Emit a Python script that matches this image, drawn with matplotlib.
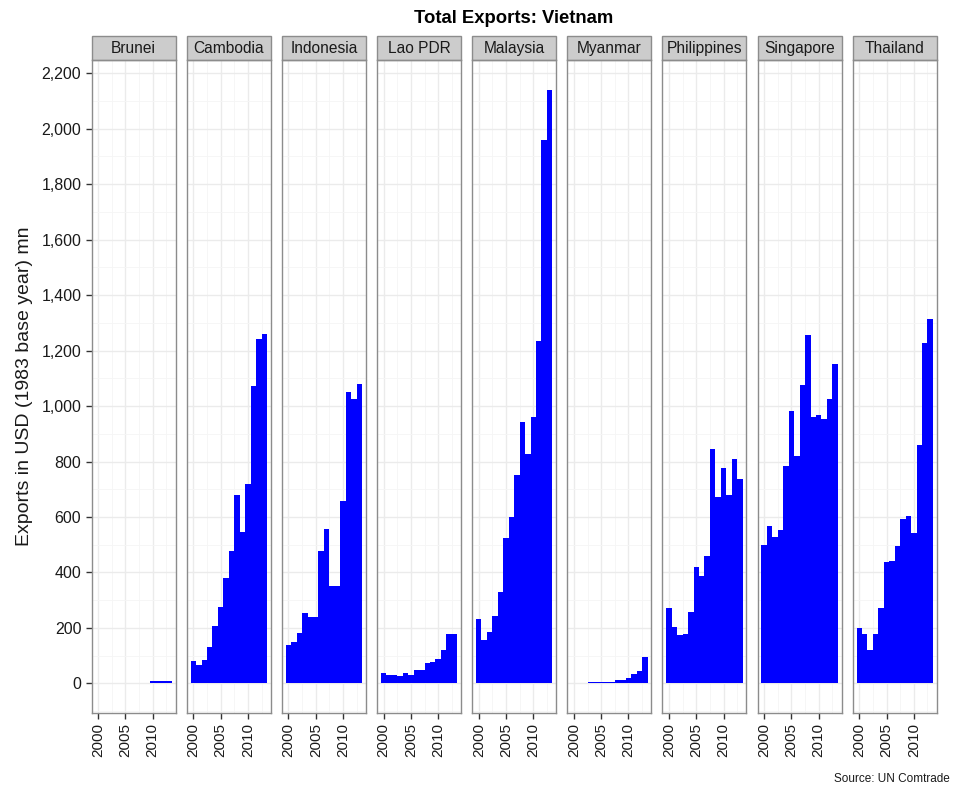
import numpy as np
import matplotlib
matplotlib.use("Agg")
import matplotlib.pyplot as plt
from matplotlib.patches import Rectangle
from matplotlib.ticker import FuncFormatter

plt.rcParams['font.family'] = ['Liberation Sans', 'DejaVu Sans']

# %% Data

years = list(range(2000, 2014))
nan = np.nan

countries = ["Brunei", "Cambodia", "Indonesia", "Lao PDR", "Malaysia",
             "Myanmar", "Philippines", "Singapore", "Thailand"]

brunei = [nan, nan, nan, nan, nan, nan, nan, nan, nan, nan, 7, 7, 7, 7]
cambodia = [80, 67, 86, 131, 208, 277, 380, 479, 680, 547, 720, 1072, 1243, 1261]
indonesia = [138, 150, 182, 252, 241, 241, 476, 557, 350, 350, 657, 1049, 1025, 1078]
lao = [36, 30, 30, 25, 36, 30, 47, 47, 73, 78, 88, 121, 179, 179]
malaysia = [231, 155, 184, 243, 329, 526, 600, 752, 943, 828, 961, 1233, 1960, 2140]
myanmar = [nan, nan, nan, 5, 5, 5, 5, 5, 11, 11, 18, 32, 44, 96]
philippines = [270, 205, 173, 178, 258, 420, 387, 461, 845, 672, 777, 680, 810, 737]
singapore = [500, 569, 529, 552, 784, 981, 819, 1077, 1257, 962, 968, 952, 1026, 1152]
thailand = [200, 179, 120, 179, 270, 436, 443, 495, 593, 605, 541, 858, 1227, 1315]

exports = [brunei, cambodia, indonesia, lao, malaysia,
           myanmar, philippines, singapore, thailand]

# %% Plot

fig, axes = plt.subplots(1, 9, sharey=True, figsize=(9.54, 7.92), dpi=100)
fig.subplots_adjust(left=0.0961, right=0.9819, top=0.9239, bottom=0.0997,
                    wspace=0.133)

for ax, name, vals in zip(axes, countries, exports):
    ax.set_facecolor("white")
    ax.set_axisbelow(True)
    ax.bar(years, vals, width=1.0, color="#0000FF", linewidth=0)

    ax.set_xlim(1998.8, 2014.2)
    ax.set_ylim(-107, 2247)
    ax.set_xticks([2000, 2005, 2010])
    ax.set_xticks([2002.5, 2007.5, 2012.5], minor=True)
    ax.set_yticks(np.arange(0, 2201, 200))
    ax.set_yticks(np.arange(-100, 2201, 200), minor=True)

    ax.grid(which="major", color="#EBEBEB", linewidth=1.0)
    ax.grid(which="minor", color="#F5F5F5", linewidth=0.6)

    for s in ax.spines.values():
        s.set_color("#8C8C8C")
        s.set_linewidth(1.0)

    ax.tick_params(axis="x", which="major", labelrotation=90, labelsize=11,
                   length=4, width=1, color="#333333", labelcolor="#1a1a1a", pad=3)
    ax.tick_params(which="minor", length=0)
    if ax is axes[0]:
        ax.tick_params(axis="y", which="major", labelsize=11.5, length=4,
                       width=1, color="#333333", labelcolor="#1a1a1a")
    else:
        ax.tick_params(axis="y", which="major", length=0, labelleft=False)

    # facet strip
    strip_h = 24 / 653
    ax.add_patch(Rectangle((0, 1), 1, strip_h, transform=ax.transAxes,
                           facecolor="#CCCCCC", edgecolor="#8C8C8C",
                           linewidth=1.0, clip_on=False))
    ax.text(0.5, 1 + strip_h / 2, name, transform=ax.transAxes,
            ha="center", va="center", fontsize=11.2, color="#1a1a1a")

axes[0].yaxis.set_major_formatter(FuncFormatter(lambda v, p: f"{int(v):,}"))
axes[0].set_ylabel("Exports in USD (1983 base year) mn", fontsize=14,
                   color="#1a1a1a", labelpad=6)

fig.suptitle("Total Exports: Vietnam", fontsize=13.3, fontweight="bold",
             x=0.5388, y=0.988)
fig.text(0.996, 0.009, "Source: UN Comtrade", ha="right", va="bottom",
         fontsize=8.5, color="#1a1a1a")

fig.savefig("out.png", dpi=100)
